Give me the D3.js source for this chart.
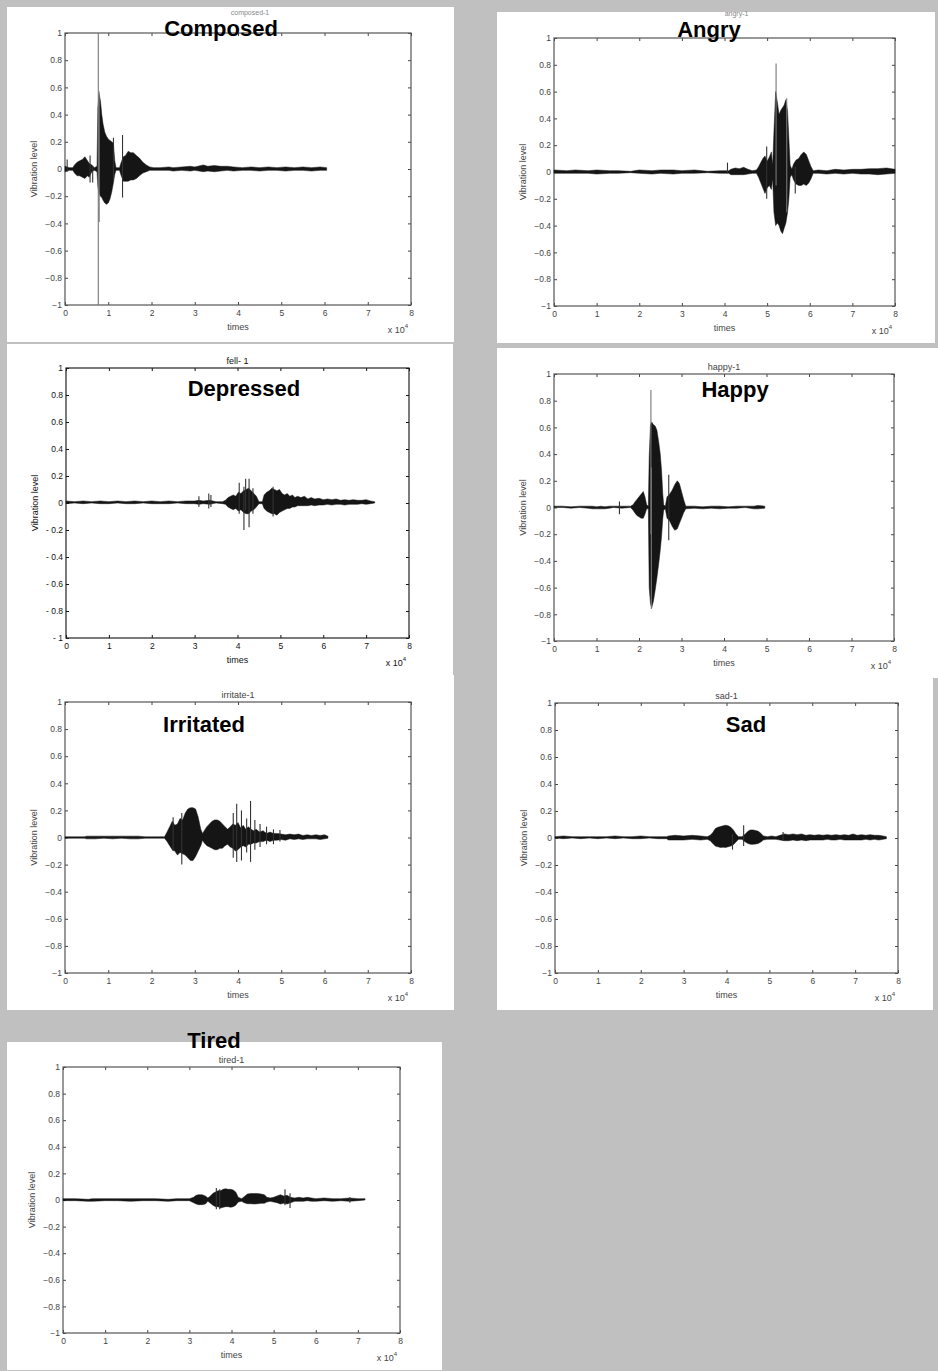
<!DOCTYPE html>
<html>
<head>
<meta charset="utf-8">
<script src="https://cdn.jsdelivr.net/npm/d3@7"></script>
<style>
body { margin: 0; background: #c0c0c0; }
svg { display: block; }
</style>
</head>
<body>
<script>
// tick values shared by every panel
var xTicks = [0, 1, 2, 3, 4, 5, 6, 7, 8];
var yTicks = [-1, -0.8, -0.6, -0.4, -0.2, 0, 0.2, 0.4, 0.6, 0.8, 1];

var emotions = ["Composed", "Angry", "Depressed", "Happy", "Irritated", "Sad", "Tired"];
var plotTitles = ["composed-1", "angry-1", "fell- 1", "happy-1", "irritate-1", "sad-1", "tired-1"];
var xLabel = "times";
var yLabel = "Vibration level";

// waveform envelopes: [time (x10^4), upper, lower]
var composedWave = [[0, 0.02, -0.02], [0.1, 0.01, -0.01], [0.18, 0.01, -0.01], [0.22, 0.03, -0.03], [0.28, 0.05, -0.05],
  [0.34, 0.06, -0.05], [0.4, 0.07, -0.06], [0.46, 0.09, -0.07], [0.52, 0.06, -0.05], [0.56, 0.04, -0.06], [0.62, 0.03, -0.02],
  [0.68, 0.01, -0.01], [0.74, 0.02, -0.02], [0.76, 0.45, -0.13], [0.79, 0.55, -0.18], [0.82, 0.5, -0.2], [0.85, 0.4, -0.21],
  [0.88, 0.33, -0.23], [0.92, 0.27, -0.25], [0.96, 0.24, -0.26], [1.0, 0.22, -0.25], [1.04, 0.21, -0.22], [1.08, 0.2, -0.17],
  [1.12, 0.19, -0.1], [1.15, 0.06, -0.04], [1.18, 0.01, -0.01], [1.26, 0.01, -0.01], [1.3, 0.05, -0.05], [1.35, 0.09, -0.09],
  [1.4, 0.1, -0.09], [1.46, 0.13, -0.09], [1.52, 0.12, -0.08], [1.58, 0.12, -0.08], [1.65, 0.1, -0.07], [1.72, 0.08, -0.05],
  [1.8, 0.05, -0.03], [1.88, 0.03, -0.02], [1.96, 0.015, -0.01], [2.05, 0.01, -0.01], [2.2, 0.01, -0.01], [2.4, 0.015, -0.01],
  [2.5, 0.01, -0.015], [2.7, 0.015, -0.01], [2.9, 0.02, -0.015], [3.0, 0.015, -0.01], [3.2, 0.03, -0.02], [3.3, 0.02, -0.015],
  [3.45, 0.025, -0.02], [3.6, 0.02, -0.015], [3.75, 0.02, -0.01], [3.9, 0.015, -0.015], [4.1, 0.01, -0.01], [4.3, 0.015, -0.01],
  [4.5, 0.01, -0.015], [4.7, 0.015, -0.01], [4.9, 0.01, -0.01], [5.1, 0.015, -0.015], [5.3, 0.01, -0.01], [5.5, 0.015, -0.01],
  [5.7, 0.01, -0.015], [5.9, 0.015, -0.01], [6.05, 0.01, -0.01]];
var composedSpikes = [[0.05, 0.07, -0.02], [0.58, 0.1, -0.1], [0.64, 0.02, -0.1], [0.77, 1, -1], [0.79, 0.57, -0.39],
  [1.12, 0.23, -0.08], [1.33, 0.25, -0.21]];

var angryWave = [[0, 0.015, -0.01], [0.3, 0.01, -0.01], [0.5, 0.015, -0.01], [0.8, 0.01, -0.01], [1.0, 0.015, -0.015],
  [1.3, 0.01, -0.01], [1.5, 0.01, -0.01], [1.8, 0.005, -0.005], [2.0, 0.015, -0.01], [2.3, 0.01, -0.015], [2.5, 0.015, -0.01],
  [2.8, 0.015, -0.015], [3.0, 0.01, -0.01], [3.3, 0.015, -0.01], [3.6, 0.005, -0.005], [3.9, 0.01, -0.01], [4.1, 0.01, -0.01],
  [4.15, 0.02, -0.02], [4.25, 0.03, -0.02], [4.35, 0.025, -0.02], [4.45, 0.035, -0.02], [4.55, 0.02, -0.015], [4.65, 0.01, -0.01],
  [4.75, 0.015, -0.01], [4.8, 0.04, -0.04], [4.85, 0.07, -0.08], [4.9, 0.1, -0.12], [4.95, 0.12, -0.16], [5.0, 0.08, -0.12],
  [5.05, 0.11, -0.1], [5.1, 0.15, -0.13], [5.13, 0.05, -0.05], [5.16, 0.3, -0.3], [5.2, 0.6, -0.4], [5.24, 0.52, -0.38],
  [5.28, 0.43, -0.4], [5.32, 0.46, -0.44], [5.36, 0.48, -0.46], [5.4, 0.5, -0.42], [5.44, 0.54, -0.38], [5.48, 0.45, -0.3],
  [5.51, 0.25, -0.2], [5.54, 0.05, -0.04], [5.58, 0.02, -0.02], [5.62, 0.06, -0.06], [5.68, 0.09, -0.09], [5.74, 0.1, -0.1],
  [5.8, 0.13, -0.1], [5.86, 0.15, -0.09], [5.92, 0.13, -0.1], [5.98, 0.08, -0.08], [6.03, 0.04, -0.05], [6.08, 0.01, -0.01],
  [6.2, 0.015, -0.01], [6.4, 0.01, -0.015], [6.6, 0.02, -0.01], [6.8, 0.015, -0.015], [7.0, 0.02, -0.01], [7.2, 0.02, -0.015],
  [7.4, 0.025, -0.015], [7.6, 0.025, -0.02], [7.8, 0.03, -0.015], [8.0, 0.02, -0.01]];
var angrySpikes = [[4.07, 0.07, -0.01], [4.99, 0.19, -0.2], [5.21, 0.81, -0.1], [5.46, 0.55, -0.3], [5.66, 0.04, -0.16]];

var depressedWave = [[0, 0.015, -0.005], [0.2, 0.01, 0], [0.4, 0.015, -0.005], [0.6, 0.01, 0], [0.8, 0.015, -0.005],
  [1.0, 0.01, -0.005], [1.2, 0.015, 0], [1.4, 0.01, -0.005], [1.6, 0.015, -0.005], [1.8, 0.01, 0], [2.0, 0.015, -0.005],
  [2.2, 0.01, -0.005], [2.4, 0.015, -0.005], [2.6, 0.01, 0], [2.8, 0.015, -0.005], [3.0, 0.015, -0.005], [3.1, 0.02, -0.01],
  [3.2, 0.015, -0.005], [3.35, 0.02, -0.01], [3.5, 0.01, 0], [3.65, 0.01, -0.005], [3.72, 0.02, -0.01], [3.78, 0.04, -0.03],
  [3.84, 0.05, -0.04], [3.9, 0.06, -0.05], [3.96, 0.05, -0.04], [4.02, 0.08, -0.06], [4.08, 0.07, -0.05], [4.14, 0.09, -0.07],
  [4.2, 0.1, -0.08], [4.26, 0.11, -0.08], [4.32, 0.09, -0.06], [4.38, 0.07, -0.05], [4.44, 0.05, -0.03], [4.5, 0.01, -0.005],
  [4.58, 0.01, -0.005], [4.62, 0.06, -0.04], [4.68, 0.08, -0.06], [4.74, 0.09, -0.07], [4.8, 0.11, -0.08], [4.86, 0.1, -0.08],
  [4.92, 0.09, -0.09], [4.98, 0.1, -0.07], [5.04, 0.07, -0.06], [5.1, 0.06, -0.05], [5.16, 0.07, -0.04], [5.22, 0.05, -0.04],
  [5.28, 0.06, -0.03], [5.34, 0.04, -0.03], [5.4, 0.05, -0.02], [5.48, 0.04, -0.02], [5.56, 0.05, -0.02], [5.64, 0.03, -0.02],
  [5.72, 0.04, -0.015], [5.8, 0.03, -0.02], [5.9, 0.035, -0.015], [6.0, 0.025, -0.015], [6.1, 0.03, -0.01], [6.2, 0.025, -0.015],
  [6.3, 0.03, -0.01], [6.4, 0.02, -0.01], [6.5, 0.025, -0.015], [6.6, 0.02, -0.01], [6.7, 0.025, -0.01], [6.8, 0.02, -0.01],
  [6.9, 0.02, -0.005], [7.0, 0.025, -0.01], [7.1, 0.015, -0.005], [7.2, 0.01, 0]];
var depressedSpikes = [[3.1, 0.05, -0.03], [3.33, 0.07, -0.04], [3.38, 0.06, -0.03], [4.04, 0.15, -0.08], [4.15, 0.12, -0.2],
  [4.19, 0.18, -0.05], [4.27, 0.18, -0.18], [4.36, 0.11, -0.08], [4.83, 0.12, -0.1]];

var happyWave = [[0, 0.01, 0], [0.2, 0.01, 0], [0.4, 0.005, -0.005], [0.6, 0.01, 0], [0.8, 0.01, -0.005], [0.9, 0.01, -0.01],
  [1.0, 0.005, -0.01], [1.1, 0.01, -0.01], [1.2, 0.005, -0.01], [1.3, 0.01, -0.005], [1.4, 0.01, 0], [1.6, 0.01, -0.005],
  [1.8, 0.01, 0], [1.86, 0.02, -0.02], [1.9, 0.04, -0.04], [1.95, 0.06, -0.06], [2.0, 0.08, -0.07], [2.05, 0.1, -0.08],
  [2.1, 0.12, -0.08], [2.14, 0.08, -0.05], [2.18, 0.02, -0.01], [2.22, 0.01, -0.01], [2.24, 0.38, -0.6], [2.27, 0.62, -0.72],
  [2.3, 0.64, -0.75], [2.34, 0.62, -0.7], [2.38, 0.61, -0.62], [2.42, 0.58, -0.53], [2.46, 0.5, -0.43], [2.5, 0.4, -0.32],
  [2.53, 0.28, -0.22], [2.56, 0.1, -0.08], [2.58, 0.02, -0.02], [2.62, 0.01, -0.01], [2.66, 0.08, -0.08], [2.72, 0.1, -0.1],
  [2.78, 0.13, -0.14], [2.84, 0.17, -0.17], [2.9, 0.2, -0.16], [2.95, 0.18, -0.12], [3.0, 0.12, -0.08], [3.05, 0.06, -0.04],
  [3.1, 0.01, -0.01], [3.3, 0.01, -0.005], [3.5, 0.005, -0.01], [3.7, 0.01, -0.005], [3.9, 0.01, -0.01], [4.1, 0.005, -0.005],
  [4.3, 0.01, -0.005], [4.5, 0.01, 0], [4.7, 0.01, -0.01], [4.8, 0.015, -0.01], [4.96, 0.01, -0.005]];
var happySpikes = [[1.54, 0.045, -0.05], [2.28, 0.88, -0.2], [2.29, 0.3, -0.76], [2.7, 0.245, -0.245]];

var irritatedWave = [[0, 0.005, -0.005], [0.45, 0.005, -0.005], [0.5, 0.01, -0.01], [0.7, 0.01, -0.01], [0.9, 0.01, -0.005],
  [1.1, 0.01, -0.01], [1.3, 0.01, -0.005], [1.5, 0.01, -0.01], [1.7, 0.01, -0.01], [1.85, 0.005, -0.005], [2.0, 0.005, -0.005],
  [2.3, 0.005, -0.005], [2.36, 0.04, -0.03], [2.42, 0.08, -0.06], [2.48, 0.12, -0.09], [2.54, 0.09, -0.1], [2.6, 0.1, -0.13],
  [2.66, 0.14, -0.11], [2.72, 0.13, -0.12], [2.78, 0.18, -0.13], [2.84, 0.21, -0.15], [2.9, 0.22, -0.17], [2.96, 0.22, -0.17],
  [3.02, 0.21, -0.14], [3.08, 0.15, -0.1], [3.14, 0.06, -0.06], [3.18, 0.03, -0.02], [3.22, 0.05, -0.04], [3.28, 0.08, -0.06],
  [3.34, 0.1, -0.07], [3.4, 0.12, -0.08], [3.46, 0.13, -0.09], [3.52, 0.13, -0.09], [3.58, 0.12, -0.08], [3.64, 0.1, -0.08],
  [3.7, 0.08, -0.06], [3.76, 0.06, -0.05], [3.82, 0.08, -0.07], [3.88, 0.1, -0.08], [3.94, 0.09, -0.1], [4.0, 0.11, -0.09],
  [4.06, 0.07, -0.07], [4.12, 0.09, -0.06], [4.18, 0.06, -0.07], [4.24, 0.08, -0.05], [4.3, 0.06, -0.05], [4.36, 0.05, -0.04],
  [4.42, 0.06, -0.04], [4.5, 0.04, -0.03], [4.58, 0.05, -0.03], [4.66, 0.03, -0.02], [4.74, 0.04, -0.03], [4.82, 0.03, -0.02],
  [4.9, 0.03, -0.02], [5.0, 0.025, -0.015], [5.1, 0.02, -0.02], [5.2, 0.025, -0.01], [5.3, 0.02, -0.015], [5.4, 0.025, -0.01],
  [5.5, 0.015, -0.015], [5.6, 0.02, -0.01], [5.7, 0.015, -0.01], [5.8, 0.02, -0.01], [5.9, 0.015, -0.015], [6.0, 0.02, -0.01],
  [6.08, 0.01, -0.005]];
var irritatedSpikes = [[2.5, 0.15, -0.1], [2.7, 0.18, -0.2], [3.89, 0.18, -0.15], [3.97, 0.25, -0.18], [4.08, 0.2, -0.17],
  [4.2, 0.14, -0.11], [4.29, 0.27, -0.18], [4.39, 0.13, -0.09], [4.51, 0.1, -0.07], [4.66, 0.08, -0.05], [4.82, 0.06, -0.05],
  [4.97, 0.055, -0.03]];

var sadWave = [[0, 0.01, 0], [0.2, 0.015, -0.005], [0.4, 0.01, 0], [0.6, 0.01, -0.005], [0.8, 0.01, 0], [1.0, 0.01, -0.005],
  [1.2, 0.01, 0], [1.4, 0.015, -0.005], [1.6, 0.01, 0], [1.8, 0.01, -0.005], [2.0, 0.015, -0.005], [2.2, 0.01, 0],
  [2.4, 0.01, -0.005], [2.6, 0.01, -0.005], [2.65, 0.015, -0.015], [2.8, 0.02, -0.015], [3.0, 0.015, -0.015], [3.2, 0.02, -0.01],
  [3.4, 0.015, -0.015], [3.55, 0.01, -0.01], [3.62, 0.02, -0.02], [3.68, 0.04, -0.04], [3.74, 0.07, -0.06], [3.8, 0.08, -0.065],
  [3.86, 0.085, -0.07], [3.92, 0.09, -0.068], [3.98, 0.095, -0.07], [4.04, 0.09, -0.065], [4.1, 0.08, -0.06], [4.16, 0.06, -0.05],
  [4.22, 0.03, -0.03], [4.28, 0.01, -0.01], [4.36, 0.01, -0.01], [4.44, 0.03, -0.03], [4.5, 0.05, -0.04], [4.56, 0.06, -0.047],
  [4.62, 0.06, -0.047], [4.68, 0.055, -0.045], [4.74, 0.05, -0.04], [4.8, 0.035, -0.03], [4.86, 0.015, -0.015], [4.95, 0.01, -0.01],
  [5.05, 0.015, -0.01], [5.15, 0.01, -0.01], [5.25, 0.02, -0.015], [5.35, 0.03, -0.02], [5.45, 0.025, -0.02], [5.55, 0.03, -0.015],
  [5.65, 0.025, -0.02], [5.75, 0.03, -0.015], [5.85, 0.02, -0.02], [5.95, 0.025, -0.015], [6.05, 0.02, -0.015], [6.15, 0.025, -0.015],
  [6.25, 0.02, -0.015], [6.35, 0.025, -0.01], [6.45, 0.02, -0.015], [6.55, 0.025, -0.015], [6.65, 0.02, -0.01], [6.75, 0.025, -0.015],
  [6.85, 0.02, -0.015], [6.95, 0.03, -0.015], [7.05, 0.02, -0.015], [7.15, 0.025, -0.015], [7.25, 0.02, -0.01], [7.35, 0.025, -0.015],
  [7.45, 0.02, -0.01], [7.55, 0.02, -0.015], [7.65, 0.015, -0.01], [7.73, 0.01, -0.005]];
var sadSpikes = [[4.14, 0.03, -0.086], [4.4, 0.095, -0.06], [5.32, 0.045, -0.02]];

var tiredWave = [[0, 0.01, -0.005], [0.3, 0.01, -0.005], [0.6, 0.005, -0.01], [0.7, 0.01, -0.01], [1.0, 0.01, -0.005],
  [1.3, 0.01, -0.005], [1.6, 0.01, -0.01], [1.9, 0.01, -0.005], [2.2, 0.01, -0.005], [2.5, 0.005, -0.01], [2.7, 0.01, -0.005],
  [3.0, 0.01, -0.005], [3.1, 0.02, -0.02], [3.16, 0.035, -0.03], [3.22, 0.04, -0.035], [3.3, 0.04, -0.035], [3.38, 0.03, -0.03],
  [3.44, 0.015, -0.01], [3.5, 0.03, -0.025], [3.56, 0.05, -0.04], [3.62, 0.06, -0.05], [3.68, 0.07, -0.05], [3.74, 0.07, -0.06],
  [3.8, 0.08, -0.055], [3.86, 0.085, -0.05], [3.92, 0.08, -0.05], [3.98, 0.08, -0.055], [4.04, 0.075, -0.05], [4.1, 0.06, -0.04],
  [4.16, 0.02, -0.015], [4.24, 0.01, -0.01], [4.3, 0.025, -0.02], [4.38, 0.045, -0.028], [4.46, 0.048, -0.028], [4.54, 0.048, -0.03],
  [4.62, 0.048, -0.028], [4.7, 0.045, -0.025], [4.78, 0.04, -0.025], [4.84, 0.02, -0.015], [4.92, 0.015, -0.01], [5.0, 0.02, -0.015],
  [5.08, 0.03, -0.02], [5.16, 0.04, -0.03], [5.24, 0.03, -0.025], [5.32, 0.035, -0.03], [5.4, 0.02, -0.02], [5.5, 0.015, -0.01],
  [5.6, 0.02, -0.01], [5.7, 0.015, -0.01], [5.8, 0.02, -0.005], [5.9, 0.015, -0.01], [6.0, 0.01, -0.01], [6.2, 0.015, -0.005],
  [6.4, 0.01, -0.01], [6.6, 0.01, -0.005], [6.8, 0.015, -0.01], [7.0, 0.01, -0.005], [7.17, 0.01, 0]];
var tiredSpikes = [[3.64, 0.09, -0.07], [3.72, 0.08, -0.07], [5.27, 0.08, -0.04], [5.39, 0.05, -0.06], [6.81, 0.02, -0.02]];

var waves = [composedWave, angryWave, depressedWave, happyWave, irritatedWave, sadWave, tiredWave];
var spikes = [composedSpikes, angrySpikes, depressedSpikes, happySpikes, irritatedSpikes, sadSpikes, tiredSpikes];

// layout: white card, plot box (left, top, right, bottom), big label position,
// and where the small plot title sits (baseline, size) when the big label covers it
var layout = [
  { box: [7, 7, 447, 335], plot: [65, 33, 411, 305], label: [221, 36], title: [14.5, 7] },
  { box: [497, 12, 438, 331], plot: [554, 38, 895, 306], label: [709, 37], title: [15.5, 7] },
  { box: [7, 344, 446, 334], plot: [66, 368, 409, 638], label: [244, 396] },
  { box: [497, 348, 441, 330], plot: [554, 374, 894, 641], label: [735, 397] },
  { box: [7, 675, 447, 335], plot: [65, 702, 411, 973], label: [204, 732] },
  { box: [497, 678, 436, 332], plot: [555, 703, 898, 973], label: [746, 732] },
  { box: [7, 1042, 435, 328], plot: [63, 1067, 400, 1333], label: [214, 1048] }
];

var font = "Arial, 'Liberation Sans', Helvetica, sans-serif";

var svg = d3.select("body").append("svg").attr("width", 938).attr("height", 1371);
svg.append("rect").attr("width", 938).attr("height", 1371).attr("fill", "#c0c0c0");

layout.forEach(function (p, i) {
  var g = svg.append("g");
  var crisp = (i == 2); // the "fell- 1" shot is sharper, darker text
  var ink = crisp ? "#111" : "#444";

  g.append("rect").attr("x", p.box[0]).attr("y", p.box[1]).attr("width", p.box[2]).attr("height", p.box[3]).attr("fill", "#fff");

  var x = d3.scaleLinear().domain([0, 8]).range([p.plot[0], p.plot[2]]);
  var y = d3.scaleLinear().domain([-1, 1]).range([p.plot[3], p.plot[1]]);

  var yFormat = function (d) {
    var s = d3.format("~g")(Math.abs(d));
    if (d < 0) return crisp ? "- " + s : "\u2212" + s;
    return s;
  };

  // ticks on all four sides, pointing in
  var bottom = g.append("g").attr("transform", "translate(0," + p.plot[3] + ")")
    .call(d3.axisBottom(x).tickValues(xTicks).tickSize(-3).tickSizeOuter(0).tickPadding(5).tickFormat(d3.format("d")));
  var left = g.append("g").attr("transform", "translate(" + p.plot[0] + ",0)")
    .call(d3.axisLeft(y).tickValues(yTicks).tickSize(-3).tickSizeOuter(0).tickPadding(3).tickFormat(yFormat));
  var top = g.append("g").attr("transform", "translate(0," + p.plot[1] + ")")
    .call(d3.axisTop(x).tickValues(xTicks).tickSize(-3).tickSizeOuter(0).tickFormat(""));
  var right = g.append("g").attr("transform", "translate(" + p.plot[2] + ",0)")
    .call(d3.axisRight(y).tickValues(yTicks).tickSize(-3).tickSizeOuter(0).tickFormat(""));

  [bottom, left, top, right].forEach(function (a) {
    a.select(".domain").remove();
    a.selectAll(".tick line").attr("stroke", ink).attr("stroke-width", 1);
    a.selectAll(".tick text").attr("fill", ink).style("font-family", font).style("font-size", "8.5px");
  });

  g.append("rect").attr("x", p.plot[0]).attr("y", p.plot[1])
    .attr("width", p.plot[2] - p.plot[0]).attr("height", p.plot[3] - p.plot[1])
    .attr("fill", "none").attr("stroke", crisp ? "#222" : "#555").attr("stroke-width", 1.2);

  // waveform envelope
  var area = d3.area()
    .x(function (d) { return x(d[0]); })
    .y0(function (d) { return y(d[2]); })
    .y1(function (d) { return y(d[1]); });
  g.append("path").attr("d", area(waves[i]))
    .attr("fill", "#151515").attr("stroke", "#151515").attr("stroke-width", 0.5).attr("stroke-linejoin", "round");

  g.selectAll(".spike").data(spikes[i]).enter().append("line")
    .attr("x1", function (d) { return x(d[0]); }).attr("x2", function (d) { return x(d[0]); })
    .attr("y1", function (d) { return y(d[1]); }).attr("y2", function (d) { return y(d[2]); })
    .attr("stroke", function (d) { return d[1] - d[2] > 0.6 ? "#777" : "#333"; })
    .attr("stroke-width", 1.1);

  var cx = (p.plot[0] + p.plot[2]) / 2;
  var cy = (p.plot[1] + p.plot[3]) / 2;

  g.append("text").attr("x", cx).attr("y", p.plot[3] + 25).attr("text-anchor", "middle")
    .attr("fill", ink).style("font-family", font).style("font-size", "9px").text(xLabel);

  var mult = g.append("text").attr("x", p.plot[2] - 3).attr("y", p.plot[3] + 28).attr("text-anchor", "end")
    .attr("fill", ink).style("font-family", font).style("font-size", "9px");
  mult.append("tspan").text("x 10");
  mult.append("tspan").attr("dy", -5).style("font-size", "6px").text("4");

  g.append("text").attr("transform", "translate(" + (p.plot[0] - 28) + "," + cy + ") rotate(-90)")
    .attr("text-anchor", "middle").attr("fill", ink).style("font-family", font).style("font-size", "9px").text(yLabel);

  // small plot title; pushed up and shrunk where the big name sits on it
  g.append("text").attr("x", cx + (p.title ? 12 : 0)).attr("y", p.title ? p.title[0] : p.plot[1] - 4)
    .attr("text-anchor", "middle").attr("fill", p.title ? "#888" : ink)
    .style("font-family", font).style("font-size", (p.title ? p.title[1] : 9) + "px").text(plotTitles[i]);
});

// big emotion names laid over the shots
svg.selectAll(".emotion").data(emotions).enter().append("text")
  .attr("x", function (d, i) { return layout[i].label[0]; })
  .attr("y", function (d, i) { return layout[i].label[1]; })
  .attr("text-anchor", "middle").attr("fill", "#000")
  .style("font-family", font).style("font-size", "22px").style("font-weight", "bold")
  .text(function (d) { return d; });
</script>
</body>
</html>
